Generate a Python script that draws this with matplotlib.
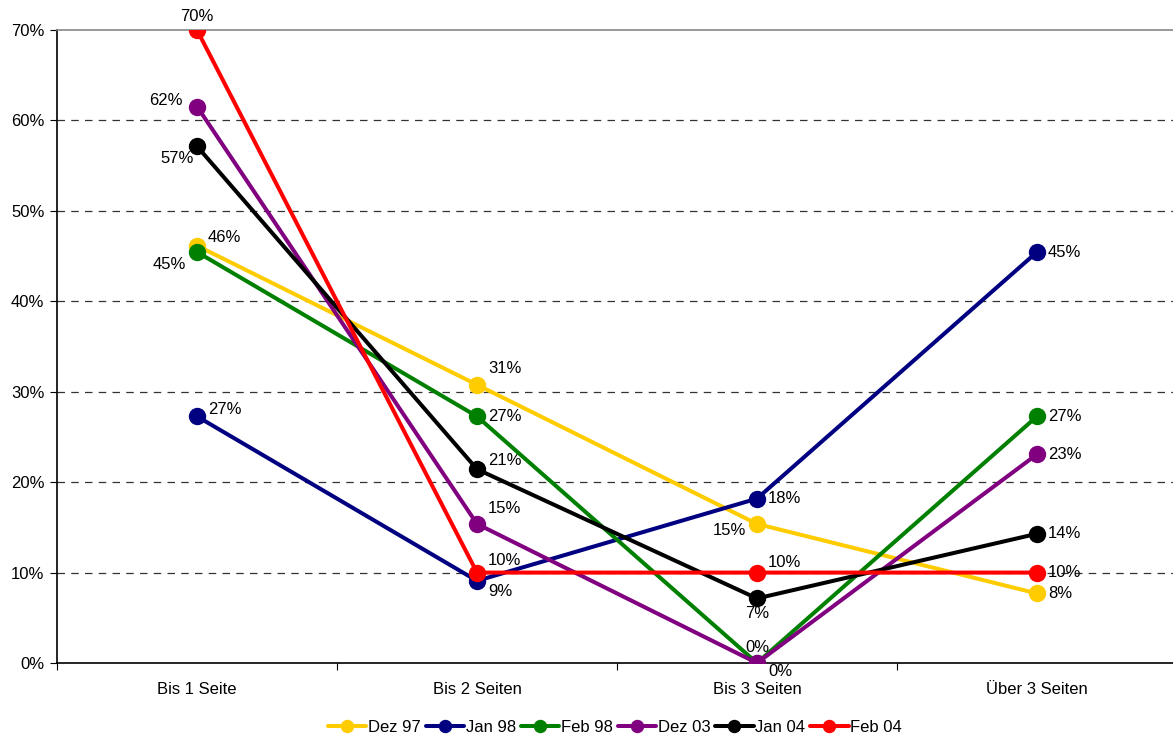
import matplotlib.pyplot as plt
from matplotlib.ticker import FuncFormatter

plt.rcParams['font.family'] = ['Liberation Sans', 'DejaVu Sans']

categories = ['Bis 1 Seite', 'Bis 2 Seiten', 'Bis 3 Seiten', 'Über 3 Seiten']
series = ['Dez 97', 'Jan 98', 'Feb 98', 'Dez 03', 'Jan 04', 'Feb 04']
colors = ['#FFCC00', '#000080', '#008000', '#800080', '#000000', '#FF0000']

dez97 = [46.15, 30.77, 15.38, 7.69]
jan98 = [27.27, 9.09, 18.18, 45.45]
feb98 = [45.45, 27.27, 0.0, 27.27]
dez03 = [61.54, 15.38, 0.0, 23.08]
jan04 = [57.14, 21.43, 7.14, 14.29]
feb04 = [70.0, 10.0, 10.0, 10.0]
values = [dez97, jan98, feb98, dez03, jan04, feb04]

# label offsets in points (dx, dy); dx sign picks the side of the marker
offsets = [
    [(8, 6), (8, 12), (-8, -5), (8, 0)],
    [(8, 5), (8, -8), (8, 0), (8, 0)],
    [(-8, -9), (8, 0), (0, 11), (8, 0)],
    [(-10, 4), (8, 11), (8, -6), (8, 0)],
    [(-2, -9), (8, 6), (0, -11), (8, 0)],
    [(0, 10), (8, 9), (8, 7), (8, 0)],
]

fig = plt.figure(figsize=(11.73, 7.35), dpi=100)
ax = fig.add_axes([57 / 1173, 72 / 735, 1120 / 1173, 633 / 735])

x = range(len(categories))
for name, vals, col, offs in zip(series, values, colors, offsets):
    ax.plot(x, vals, color=col, lw=2.9, marker='o', ms=11.5, label=name,
            solid_capstyle='round', zorder=3)
    for xi, v, (dx, dy) in zip(x, vals, offs):
        ha = 'center' if dx == 0 else ('left' if dx > 0 else 'right')
        if name == 'Jan 04' and xi == 0:
            ha = 'right'
        ax.annotate(f'{v:.0f}%', (xi, v), xytext=(dx, dy), textcoords='offset points',
                    ha=ha, va='center', fontsize=12, zorder=2)

ax.set_xlim(-0.5, 3.5)
ax.set_ylim(0, 70)
ax.set_yticks(range(0, 71, 10))
ax.yaxis.set_major_formatter(FuncFormatter(lambda v, p: f'{v:.0f}%'))
ax.set_xticks([i - 0.5 for i in range(4)])
ax.set_xticklabels([])
ax.set_xticks(list(x), minor=True)
ax.set_xticklabels(categories, minor=True)
ax.tick_params(axis='x', which='minor', length=0, pad=14, labelsize=12)
ax.tick_params(axis='x', which='major', length=5, direction='out')
ax.tick_params(axis='y', length=5, direction='out', labelsize=12, pad=4)

for yv in range(10, 70, 10):
    ax.axhline(yv, color='#333333', lw=0.9, ls=(0, (6, 5)), zorder=1)

ax.spines['right'].set_visible(False)
ax.spines['top'].set_color('#888888')
ax.spines['top'].set_linewidth(1.2)
ax.spines['left'].set_linewidth(1.2)
ax.spines['bottom'].set_linewidth(1.2)

fig.legend(loc='center', bbox_to_anchor=(615 / 1173, 1 - 727 / 735), ncol=6,
           frameon=False, fontsize=12, handlelength=2.3, handletextpad=0.1,
           columnspacing=0.3, markerscale=0.75)

fig.savefig('out.png', dpi=100)
